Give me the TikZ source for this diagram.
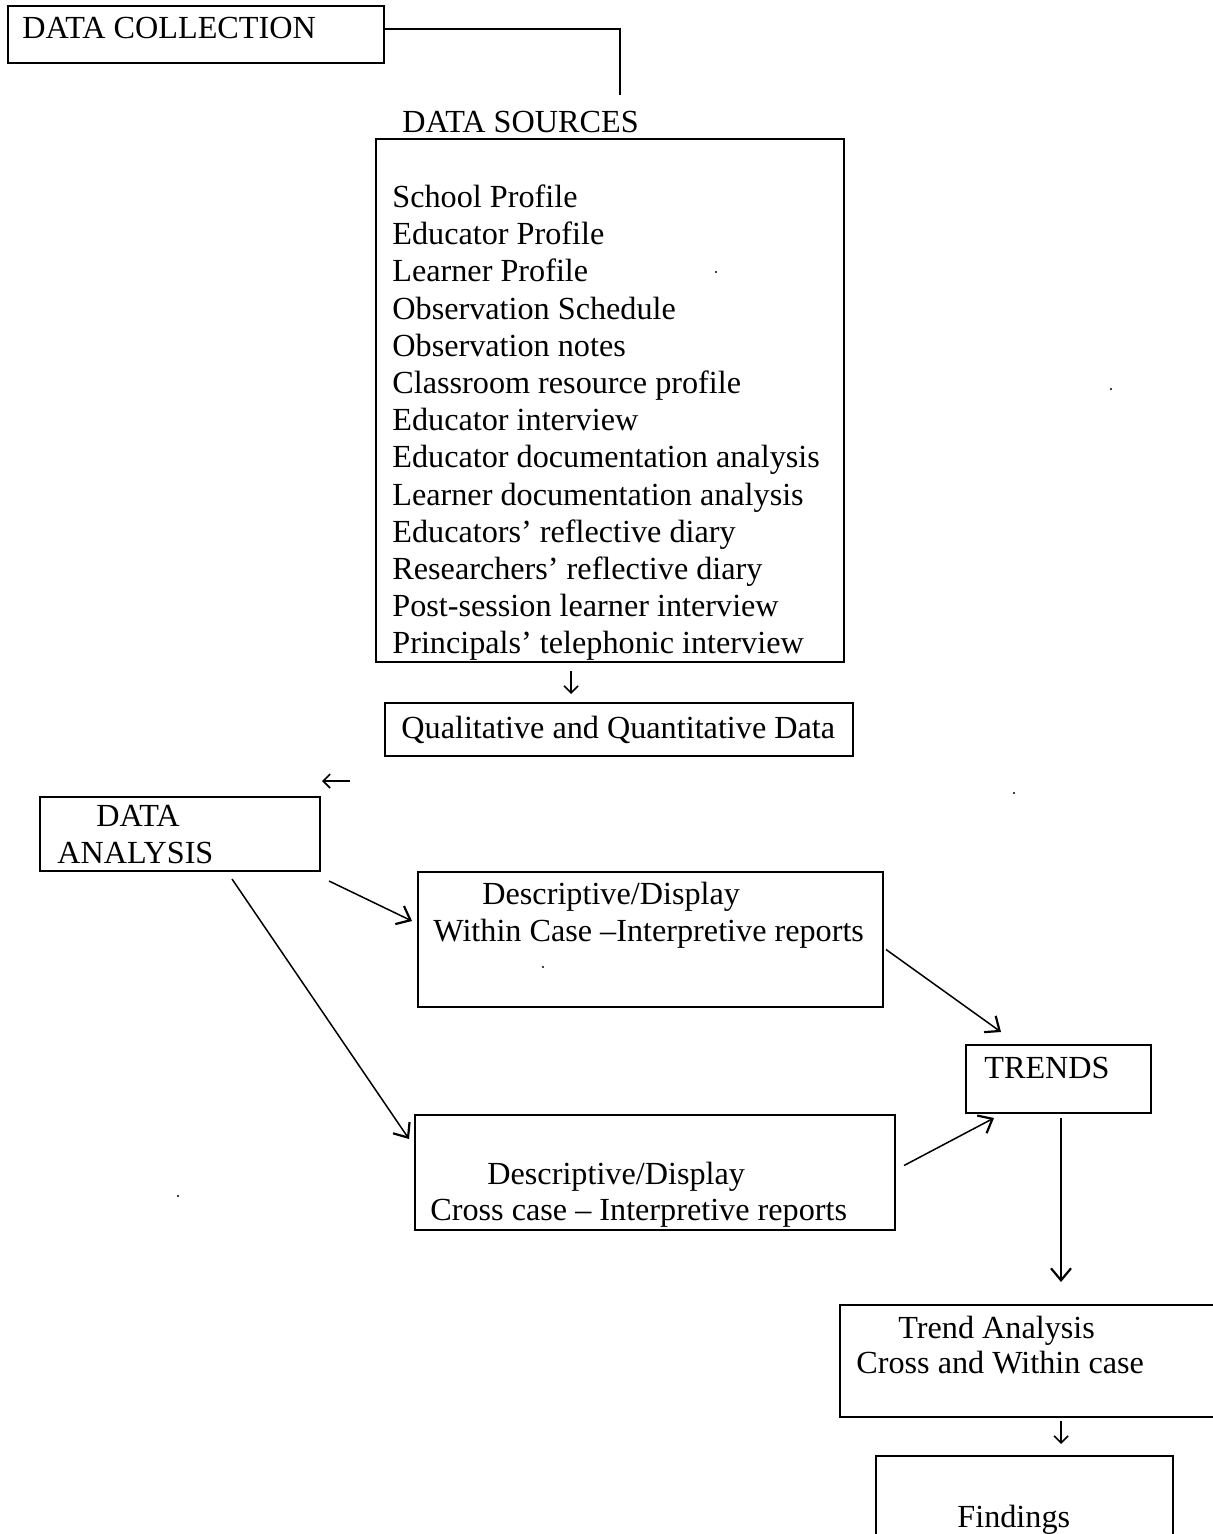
\documentclass[tikz,border=0pt]{standalone}
\usepackage{fontspec}
\setmainfont{Liberation Serif}
\usetikzlibrary{arrows.meta,positioning,fit}
\begin{document}
\begin{tikzpicture}[x=0.5pt,y=-0.5pt,
  box/.style={draw,line width=1pt,inner sep=0pt},
  lbl/.style={anchor=base west,inner sep=0pt,font=\fontsize{16.1}{18.6}\selectfont},
  arr/.style={line width=0.75pt,-{Straight Barb[length=6pt,width=10pt,line width=1.1pt]}},
  tinyarr/.style={line width=0.7pt,-{Straight Barb[length=3.5pt,width=7pt,line width=0.8pt]}},
  speck/.style={fill=black,circle,inner sep=0pt,minimum size=1.2pt}]
\useasboundingbox (0,0) rectangle (1213,1534);

% data collection stage
\node[box,fit={(8,6) (384,63)}] (dc) {};
\node[lbl] (dct) at (22,39) {DATA COLLECTION};
\node[lbl] (dst) at (402,133) {DATA SOURCES};
\coordinate (dsend) at (620,95);
\draw[line width=1.4pt] (dc.east |- 0,29) -| (dsend);

\node[box,fit={(376,139) (844,662)}] (src) {};
\foreach \t [count=\i from 0] in {School Profile,Educator Profile,Learner Profile,Observation Schedule,Observation notes,Classroom resource profile,Educator interview,Educator documentation analysis,Learner documentation analysis,Educators’ reflective diary,Researchers’ reflective diary,Post-session learner interview,Principals’ telephonic interview}
  \node[lbl] (s\i) at (392,207.5+37.2*\i) {\t};

\node[box,fit={(385,703) (853,756)}] (qq) {};
\node[lbl] (qqt) at (401,738) {Qualitative and Quantitative Data};
\draw[tinyarr] ([shift={(196,8)}]src.south west) -- ([shift={(187,-8)}]qq.north west);

% data analysis stage
\coordinate (la) at (350,781);
\coordinate (lb) at (322,781);
\draw[tinyarr] (la) -- (lb);

\node[box,fit={(40,797) (320,871)}] (da) {};
\node[lbl] (dat1) at (96,826) {DATA};
\node[lbl] (dat2) at (57,863) {ANALYSIS};

\node[box,fit={(418,872) (883,1007)}] (wc) {};
\node[lbl] (wc1) at (482,904) {Descriptive/Display};
\node[lbl] (wc2) at (433,941) {Within Case –Interpretive reports};

\node[box,fit={(415,1115) (895,1230)}] (cc) {};
\node[lbl] (cc1) at (487,1184) {Descriptive/Display};
\node[lbl] (cc2) at (430,1220) {Cross case – Interpretive reports};

\node[box,fit={(966,1045) (1151,1113)}] (tr) {};
\node[lbl] (trt) at (984,1078) {TRENDS};

\node[box,fit={(840,1305) (1225,1417)}] (ta) {};
\node[lbl] (ta1) at (898,1338) {Trend Analysis};
\node[lbl] (ta2) at (856,1373) {Cross and Within case};

\node[box,fit={(876,1456) (1173,1550)}] (fd) {};
\node[lbl] (fdt) at (957,1527) {Findings};

% connectors
\draw[arr] ([shift={(8,9)}]da.south east) -- ([shift={(-5,50)}]wc.north west);
\draw[arr] ([shift={(-89,7)}]da.south east) -- ([shift={(-5,25)}]cc.north west);
\draw[arr] ([shift={(2,10)}]wc.east) -- ([shift={(36,-12)}]tr.north west);
\draw[arr] ([shift={(8,-7)}]cc.east) -- ([shift={(29,4)}]tr.south west);
\draw[arr] ([shift={(96,4)}]tr.south west) -- ([shift={(222,-22)}]ta.north west);
\draw[tinyarr] ([shift={(222,3)}]ta.south west) -- ([shift={(186,-11)}]fd.north west);

% stray marks
\node[speck] (d1) at (543,967) {};
\node[speck] (d2) at (716,272) {};
\node[speck] (d3) at (1111,389) {};
\node[speck] (d4) at (1014,793) {};
\node[speck] (d5) at (178,1196) {};
\end{tikzpicture}
\end{document}
